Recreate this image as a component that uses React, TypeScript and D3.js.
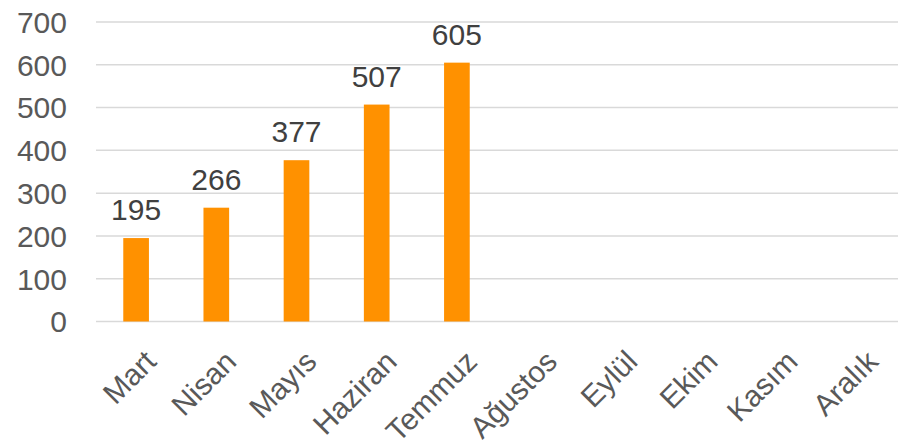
import React from 'react';
import * as d3 from 'd3';

const months = ['Mart', 'Nisan', 'Mayıs', 'Haziran', 'Temmuz', 'Ağustos', 'Eylül', 'Ekim', 'Kasım', 'Aralık'];
const counts: (number | null)[] = [195, 266, 377, 507, 605, null, null, null, null, null];
const yTicks = [0, 100, 200, 300, 400, 500, 600, 700];

const W = 898;
const H = 444;
const margin = { top: 22, right: 0, bottom: 122.5, left: 96 };

const App = () => {
  const x = d3.scaleBand<string>()
    .domain(months)
    .range([margin.left, W - margin.right])
    .paddingInner(0.68)
    .paddingOuter(0.34);

  const y = d3.scaleLinear()
    .domain([0, 700])
    .range([H - margin.bottom, margin.top]);

  const font = 'Liberation Sans, Arial, sans-serif';

  return (
    <svg width={W} height={H} style={{ position: 'absolute', left: 0, top: 0, background: '#fff' }}>
      {/* gridlines */}
      {yTicks.map(t => (
        <line key={t} x1={margin.left} x2={W - margin.right} y1={y(t)} y2={y(t)}
          stroke="#d9d9d9" strokeWidth={1.5} />
      ))}
      {/* y tick labels */}
      {yTicks.map(t => (
        <text key={'l' + t} x={67} y={y(t)} dy="0.36em" textAnchor="end"
          fontFamily={font} fontSize={30} fill="#595959">{t}</text>
      ))}
      {/* bars */}
      {months.map((m, i) => {
        const v = counts[i];
        if (v == null) return null;
        return (
          <g key={m}>
            <rect x={x(m)} y={y(v)} width={x.bandwidth()} height={y(0) - y(v)} fill="#ff9100" />
            <text x={(x(m) as number) + x.bandwidth() / 2} y={y(v) - 18} textAnchor="middle"
              fontFamily={font} fontSize={30} fill="#404040">{v}</text>
          </g>
        );
      })}
      {/* x labels */}
      {months.map(m => {
        const cx = (x(m) as number) + x.bandwidth() / 2 + 7;
        const cy = y(0) + 27;
        return (
          <text key={'x' + m} transform={`translate(${cx},${cy}) rotate(-45)`} textAnchor="end"
            dy="0.7em" fontFamily={font} fontSize={30} fill="#595959">{m}</text>
        );
      })}
    </svg>
  );
};

export default App;
